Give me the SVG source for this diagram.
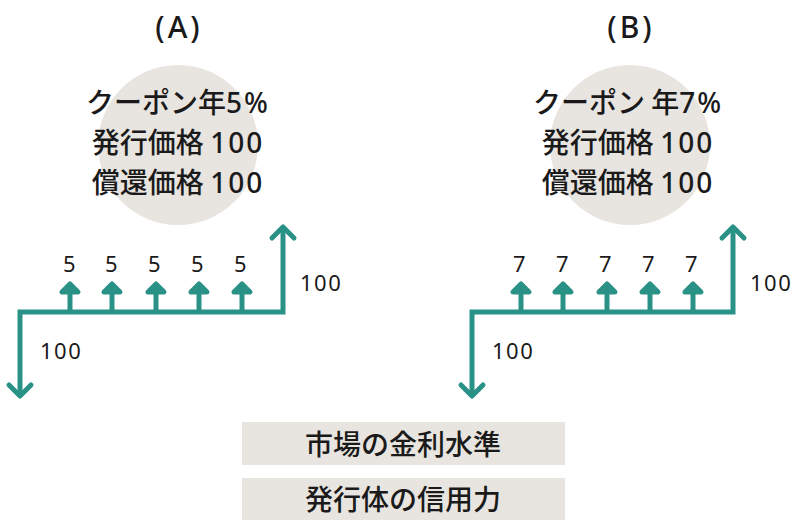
<svg xmlns="http://www.w3.org/2000/svg" width="800" height="530" viewBox="0 0 800 530">
<style>
.t{font-family:"Noto Sans CJK JP","Noto Sans",sans-serif;fill:#1a1a1a;font-weight:500}
.big{font-size:28px}
.ttl{font-size:30px;font-family:"Noto Sans","Noto Sans CJK JP",sans-serif;fill:#1a1a1a;font-weight:500;letter-spacing:3px}
.d{font-family:"Noto Sans","Noto Sans CJK JP",sans-serif;letter-spacing:2px}
.num{font-size:22px;font-family:"Noto Sans","Noto Sans CJK JP",sans-serif;fill:#1a1a1a;letter-spacing:1.5px}
.ln{stroke:#2a9187;stroke-width:5;fill:none;stroke-linejoin:miter}
.hd{stroke:#2a9187;stroke-width:5;fill:none;stroke-linecap:round;stroke-linejoin:round}
.sh{stroke:#2a9187;stroke-width:5;fill:#2a9187;stroke-linejoin:round}
.bg{fill:#e8e4df}
</style>
<g id="titleA"><text class="ttl" x="179" y="38" text-anchor="middle">(A)</text></g>
<g id="titleB"><text class="ttl" x="631" y="38" text-anchor="middle">(B)</text></g>
<g id="circleA">
<circle class="bg" cx="178" cy="145" r="80"/>
<text class="t big" x="178" y="113" text-anchor="middle">クーポン年<tspan class="d">5%</tspan></text>
<text class="t big" x="178" y="153" text-anchor="middle">発行価格 <tspan class="d">100</tspan></text>
<text class="t big" x="178" y="193" text-anchor="middle">償還価格 <tspan class="d">100</tspan></text>
</g>
<g id="circleB">
<circle class="bg" cx="630" cy="145" r="80"/>
<text class="t big" x="628" y="113" text-anchor="middle">クーポン 年<tspan class="d">7%</tspan></text>
<text class="t big" x="628" y="153" text-anchor="middle">発行価格 <tspan class="d">100</tspan></text>
<text class="t big" x="628" y="193" text-anchor="middle">償還価格 <tspan class="d">100</tspan></text>
</g>
<g id="connectors">
<g id="flowA">
<path class="ln" d="M20 395 V312 H283 V229"/>
<path class="hd" d="M9 385 L20 396 L31 385"/>
<path class="hd" d="M272 238 L283 227 L294 238"/>
<path class="ln" d="M70 312 V288 M112 312 V288 M156 312 V288 M199 312 V288 M242 312 V288"/>
<path class="sh" d="M62 292 L70 284 L78 292 Z M104 292 L112 284 L120 292 Z M148 292 L156 284 L164 292 Z M191 292 L199 284 L207 292 Z M234 292 L242 284 L250 292 Z"/>
</g>
<g id="flowB">
<path class="ln" d="M472 395 V312 H733 V229"/>
<path class="hd" d="M461 385 L472 396 L483 385"/>
<path class="hd" d="M722 238 L733 227 L744 238"/>
<path class="ln" d="M521 312 V288 M563 312 V288 M607 312 V288 M650 312 V288 M693 312 V288"/>
<path class="sh" d="M513 292 L521 284 L529 292 Z M555 292 L563 284 L571 292 Z M599 292 L607 284 L615 292 Z M642 292 L650 284 L658 292 Z M685 292 L693 284 L701 292 Z"/>
</g>
</g>
<g id="labelsA">
<text class="num" x="70" y="272" text-anchor="middle">5</text>
<text class="num" x="112" y="272" text-anchor="middle">5</text>
<text class="num" x="155" y="272" text-anchor="middle">5</text>
<text class="num" x="198" y="272" text-anchor="middle">5</text>
<text class="num" x="241" y="272" text-anchor="middle">5</text>
<text class="num" x="300" y="291">100</text>
<text class="num" x="40" y="359">100</text>
</g>
<g id="labelsB">
<text class="num" x="520" y="272" text-anchor="middle">7</text>
<text class="num" x="563" y="272" text-anchor="middle">7</text>
<text class="num" x="606" y="272" text-anchor="middle">7</text>
<text class="num" x="649" y="272" text-anchor="middle">7</text>
<text class="num" x="692" y="272" text-anchor="middle">7</text>
<text class="num" x="750" y="291">100</text>
<text class="num" x="492" y="359">100</text>
</g>
<g id="box1">
<rect class="bg" x="242" y="422" width="323" height="43"/>
<text class="t big" x="403" y="455" text-anchor="middle">市場の金利水準</text>
</g>
<g id="box2">
<rect class="bg" x="242" y="478" width="323" height="42"/>
<text class="t big" x="403" y="510" text-anchor="middle">発行体の信用力</text>
</g>
</svg>
